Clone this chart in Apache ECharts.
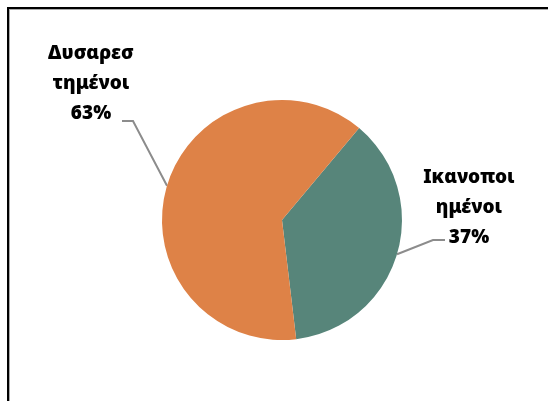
<!DOCTYPE html>
<html>
<head>
<meta charset="utf-8">
<script src="https://cdn.jsdelivr.net/npm/echarts@6/dist/echarts.min.js"></script>
<style>
  html, body { margin: 0; padding: 0; background: #fff; }
  #wrap { position: relative; width: 548px; height: 401px; overflow: hidden; }
  #frame {
    position: absolute; left: 7px; top: 7px; width: 600px; height: 500px;
    border: 2px solid #000; box-shadow: inset 1px 1px 0 #aaa;
  }
  #chart { position: absolute; left: 0; top: 0; width: 548px; height: 401px; }
</style>
</head>
<body>
<div id="wrap">
  <div id="frame"></div>
  <div id="chart"></div>
</div>
<script>
// κατηγορίες και τιμές (%)
const categories = ['Ικανοποι\nημένοι', 'Δυσαρεσ\nτημένοι'];
const values = [37, 63];
const colors = ['#57857a', '#de8247'];

// θέσεις ετικετών (κέντρο) και γωνία της γραμμής οδηγού
const labelPos = [[469, 208], [91, 84]];
const guide = [[-36, 32, -24], [42, 37, 31]];

const chart = echarts.init(document.getElementById('chart'));
chart.setOption({
  animation: false,
  series: [{
    type: 'pie',
    center: [282, 220],
    radius: 120,
    startAngle: 50,
    clockwise: true,
    data: categories.map((c, i) => ({
      name: c,
      value: values[i],
      itemStyle: { color: colors[i] }
    })),
    label: {
      show: true,
      position: 'outside',
      formatter: '{b}\n{d}%',
      color: '#000',
      fontSize: 19,
      fontWeight: 900,
      lineHeight: 30,
      fontFamily: '"Noto Sans", sans-serif',
      align: 'center'
    },
    labelLine: {
      show: true,
      length: 20,
      length2: 10,
      lineStyle: { color: '#8c8c8c', width: 2 }
    },
    labelLayout: function (params) {
      const p = labelPos[params.dataIndex];
      const g = guide[params.dataIndex];
      const start = params.labelLinePoints[0];
      return {
        x: p[0], y: p[1], align: 'center', verticalAlign: 'middle',
        labelLinePoints: [start, [p[0] + g[0], p[1] + g[1]], [p[0] + g[2], p[1] + g[1]]]
      };
    }
  }]
});
</script>
</body>
</html>
